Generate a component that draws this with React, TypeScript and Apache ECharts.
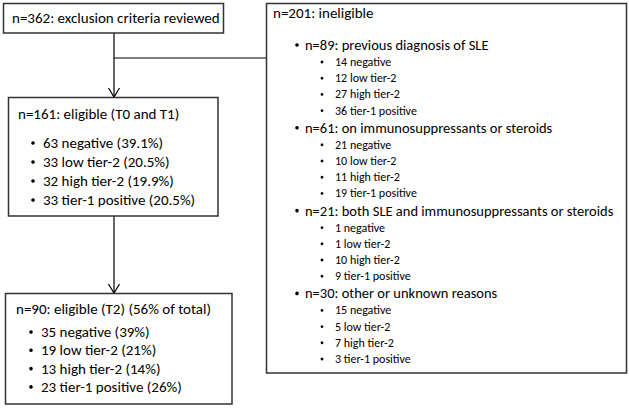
import React, { useEffect, useRef } from "react";
import * as echarts from "echarts";

const totalReviewed = 362;
const eligibleN = 161;
const ineligibleN = 201;
const t2N = 90;
const t2OfTotal = "56%";
const categories = ["negative", "low tier-2", "high tier-2", "tier-1 positive"];
const t01Counts = [63, 33, 32, 33];
const t01Pct = ["39.1%", "20.5%", "19.9%", "20.5%"];
const t2Counts = [35, 19, 13, 23];
const t2Pct = ["39%", "21%", "14%", "26%"];
const reasons = [
  "previous diagnosis of SLE",
  "on immunosuppressants or steroids",
  "both SLE and immunosuppressants or steroids",
  "other or unknown reasons",
];
const reasonN = [89, 61, 21, 30];
const sleCounts = [14, 12, 27, 36];
const immCounts = [21, 10, 11, 19];
const bothCounts = [1, 1, 10, 9];
const otherCounts = [15, 5, 7, 3];
const reasonCounts = [sleCounts, immCounts, bothCounts, otherCounts];

const FONT = "Carlito, Lato, 'Open Sans', sans-serif";

export default function App() {
  const ref = useRef<HTMLDivElement>(null);
  useEffect(() => {
    document.body.style.margin = "0";
    if (!ref.current) return;
    const chart = echarts.init(ref.current, null, { renderer: "svg" });
    const els: any[] = [];
    const txt = (text: string, x: number, y: number, size: number) =>
      els.push({
        type: "text",
        z: 10,
        style: { text, x, y, fontSize: size, fontFamily: FONT, fill: "#000", verticalAlign: "middle", align: "left" },
      });
    const dot = (x: number, y: number, r: number) =>
      els.push({ type: "circle", z: 10, shape: { cx: x, cy: y, r }, style: { fill: "#000" } });
    const box = (x: number, y: number, w: number, h: number) =>
      els.push({
        type: "rect",
        shape: { x, y, width: w, height: h },
        style: { fill: "#fff", stroke: "#333", lineWidth: 1.5 },
      });
    const line = (x1: number, y1: number, x2: number, y2: number) =>
      els.push({ type: "line", shape: { x1, y1, x2, y2 }, style: { stroke: "#000", lineWidth: 1.2 } });
    const arrow = (x: number, y: number) =>
      els.push({
        type: "polyline",
        shape: { points: [[x - 5.5, y - 9], [x, y], [x + 5.5, y - 9]] },
        style: { stroke: "#000", lineWidth: 1.2, fill: null },
      });

    // connectors
    line(114, 33, 114, 97);
    arrow(114, 97);
    line(114, 58, 266, 58);
    line(114, 216, 114, 293);
    arrow(114, 293);

    // box 1
    box(3.5, 3.5, 220, 29.5);
    txt(`n=${totalReviewed}: exclusion criteria reviewed`, 12, 18, 15);

    // box 2
    box(8.5, 97.5, 209.5, 118.5);
    txt(`n=${eligibleN}: eligible (T0 and T1)`, 18, 114, 15);
    categories.forEach((c, i) => {
      const y = 143 + i * 19;
      dot(33, y, 1.8);
      txt(`${t01Counts[i]} ${c} (${t01Pct[i]})`, 43, y, 15);
    });

    // box 3
    box(5.5, 293.5, 226.5, 110.5);
    txt(`n=${t2N}: eligible (T2) (${t2OfTotal} of total)`, 16, 309, 15);
    categories.forEach((c, i) => {
      const y = 332 + i * 18.3;
      dot(31, y, 1.8);
      txt(`${t2Counts[i]} ${c} (${t2Pct[i]})`, 41, y, 15);
    });

    // right box
    box(266.5, 3.5, 360, 369.5);
    txt(`n=${ineligibleN}: ineligible`, 273, 13, 15);
    let y = 45;
    reasons.forEach((r, i) => {
      dot(297, y, 1.8);
      txt(`n=${reasonN[i]}: ${r}`, 305, y, 14.5);
      y += 17;
      categories.forEach((c, j) => {
        dot(322, y, 1.4);
        txt(`${reasonCounts[i][j]} ${c}`, 335, y, 12);
        y += 16.2;
      });
      y += 1;
    });

    chart.setOption({ animation: false, graphic: { elements: els } });
    return () => chart.dispose();
  }, []);
  return <div ref={ref} style={{ width: 629, height: 414, background: "#fff" }} />;
}
